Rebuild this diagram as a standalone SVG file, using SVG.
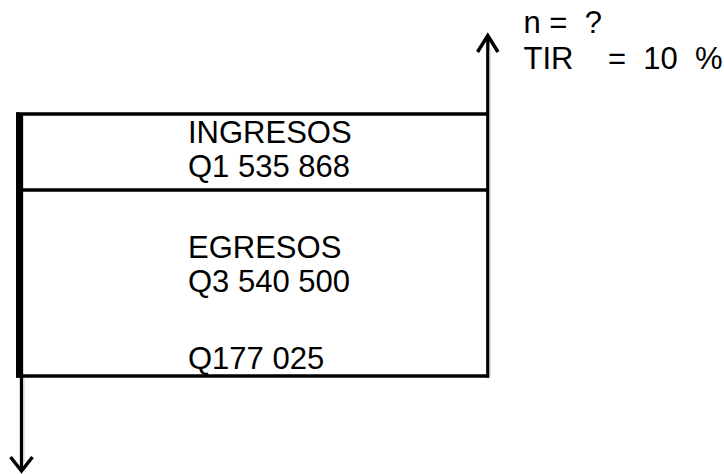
<svg xmlns="http://www.w3.org/2000/svg" width="724" height="474" viewBox="0 0 724 474">
<defs>
<style>
.t{font-family:"Liberation Sans",Arial,sans-serif;font-size:31px;fill:#000}
.ln{stroke:#000;stroke-width:3.3;fill:none}
.sh{stroke:#c8c8c8;stroke-width:1;fill:none}
.ah{stroke:#000;stroke-width:3.5;fill:none;stroke-linecap:butt;stroke-linejoin:miter}
</style>
</defs>
<rect width="724" height="474" fill="#fff"/>
<g id="box">
<line class="ln" x1="16" y1="114" x2="489" y2="114"/>
<line class="ln" x1="16" y1="190" x2="489" y2="190"/>
<line class="ln" x1="16" y1="376" x2="489" y2="376"/>
<line class="ln" x1="18" y1="112.5" x2="18" y2="377.5" style="stroke-width:4"/>
</g>
<g id="ingresos">
<text class="t" x="188" y="143">INGRESOS</text>
<text class="t" x="188" y="177">Q1 535 868</text>
</g>
<g id="egresos">
<text class="t" x="188" y="258">EGRESOS</text>
<text class="t" x="188" y="291.5">Q3 540 500</text>
<text class="t" x="188" y="369">Q177 025</text>
</g>
<g id="params">
<text class="t" x="523.5" y="32.5" xml:space="preserve">n =  ?</text>
<text class="t" x="523.5" y="69" xml:space="preserve">TIR    =  10  %</text>
</g>
<g id="connectors">
<line class="ln" x1="21.5" y1="114" x2="21.5" y2="469"/>
<line class="sh" x1="24" y1="378" x2="24" y2="462"/>
<polyline class="ah" points="10.5,457 21.5,471 32.5,457"/>
<line class="ln" x1="487.8" y1="377.5" x2="487.8" y2="37"/>
<line class="sh" x1="490" y1="50" x2="490" y2="378"/>
<polyline class="ah" points="477.5,52 487.8,35.5 498,52"/>
</g>
</svg>
